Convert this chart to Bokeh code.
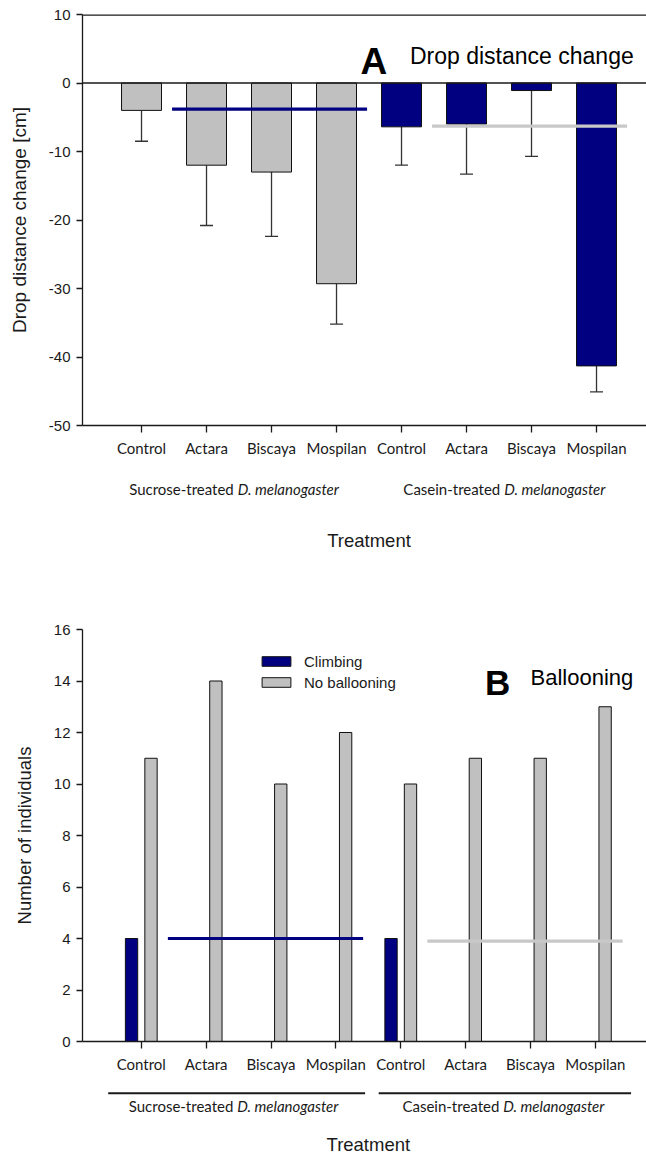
from bokeh.plotting import figure
from bokeh.layouts import column
from bokeh.models import (ColumnDataSource, Whisker, TeeHead, FixedTicker, Label, Span,
                          Arrow, Legend, LegendItem, Range1d)
from bokeh.embed import file_html
from bokeh.resources import INLINE

# ---------------- data ----------------
treatments = ["Control", "Actara", "Biscaya", "Mospilan"]
groups = ["Sucrose-treated", "Casein-treated"]
species = "D. melanogaster"
group_colors = ["#C0C0C0", "#000080"]      # bar colour per group (panel A)
ref_line_colors = ["#000080", "#C8C8C8"]   # reference line colour per group

# Panel A: drop distance change [cm]
drop_mean = [-4.0, -12.0, -13.0, -29.3, -6.4, -6.0, -1.1, -41.3]
drop_se = [4.5, 8.8, 9.4, 5.9, 5.6, 7.3, 9.6, 3.8]
drop_ref_levels = [-3.8, -6.3]
drop_yticks = [-50, -40, -30, -20, -10, 0, 10]

# Panel B: number of individuals
climbing = [4, 0, 0, 0, 4, 0, 0, 0]
no_ballooning = [11, 14, 10, 12, 10, 11, 11, 13]
ball_ref_levels = [4.0, 3.9]
ball_yticks = [0, 2, 4, 6, 8, 10, 12, 14, 16]

# ---------------- helpers ----------------
n_t = len(treatments)
xs = list(range(1, len(groups) * n_t + 1))
tick_labels = {x: t for x, t in zip(xs, treatments * len(groups))}
bar_colors = [group_colors[i // n_t] for i in range(len(xs))]

AX = "#1a1a1a"
SANS = "Liberation Sans"
HUM = "Lato"
W = 646


def style(p, yticks, ylabel, ylab_size, ylab_standoff):
    p.outline_line_color = None
    p.grid.visible = False
    p.yaxis.ticker = FixedTicker(ticks=yticks)
    p.yaxis.major_label_overrides = {v: str(v) for v in yticks}
    p.xaxis.ticker = FixedTicker(ticks=xs)
    p.xaxis.major_label_overrides = tick_labels
    for ax in (p.xaxis, p.yaxis):
        ax.axis_line_color = AX
        ax.axis_line_width = 1.3
        ax.major_tick_line_color = AX
        ax.major_tick_line_width = 1.3
        ax.minor_tick_line_color = None
        ax.major_tick_in = 0
        ax.major_label_text_color = AX
        ax.axis_label_text_color = AX
        ax.axis_label_text_font = SANS
        ax.axis_label_text_font_style = "normal"
    p.yaxis.major_tick_out = 6
    p.xaxis.major_tick_out = 7
    p.yaxis.major_label_text_font = SANS
    p.yaxis.major_label_text_font_size = "15px"
    p.yaxis.major_label_standoff = 6
    p.xaxis.major_label_text_font = HUM
    p.xaxis.major_label_text_font_size = "15px"
    p.xaxis.major_label_standoff = 6
    p.yaxis.axis_label = ylabel
    p.yaxis.axis_label_text_font_size = ylab_size
    p.yaxis.axis_label_standoff = ylab_standoff


def label_strip(x_range, height, left, y_group, y_title, centers):
    s = figure(width=W, height=height, x_range=x_range, y_range=Range1d(height, 0),
               x_axis_type=None, y_axis_type=None, output_backend="svg",
               toolbar_location=None, min_border_left=left, min_border_right=0,
               min_border_top=0, min_border_bottom=0)
    s.outline_line_color = None
    s.grid.visible = False
    for g, c in zip(groups, centers):
        s.add_layout(Label(x=c, y=y_group, text=g, text_align="right", text_baseline="middle",
                           x_offset=-2, text_font=HUM, text_font_size="15px", text_color=AX))
        s.add_layout(Label(x=c, y=y_group, text=species, text_align="left",
                           text_baseline="middle", x_offset=2, text_font=HUM,
                           text_font_size="15px", text_font_style="italic", text_color=AX))
    s.add_layout(Label(x=(xs[0] + xs[-1]) / 2, y=y_title, text="Treatment", text_align="center",
                       text_baseline="middle", text_font=SANS, text_font_size="18.5px",
                       text_color=AX))
    return s


# ---------------- Panel A ----------------
srcA = ColumnDataSource(dict(
    x=xs, top=drop_mean,
    lower=[m - s for m, s in zip(drop_mean, drop_se)],
    color=bar_colors))

xrA = Range1d(0.092, 8.769)
pA = figure(width=W, height=465, x_range=xrA, y_range=Range1d(-50, 10),
            output_backend="svg", toolbar_location=None,
            min_border_top=14, min_border_bottom=40, min_border_left=82, min_border_right=0)
style(pA, drop_yticks, "Drop distance change [cm]", "19px", 16)

pA.add_layout(Span(location=0, dimension="width", line_color=AX, line_width=1.3))
pA.add_layout(Span(location=10, dimension="width", line_color=AX, line_width=2.6))

pA.vbar(x="x", top="top", bottom=0, width=0.615, fill_color="color",
        line_color="#111111", line_width=1, source=srcA)
pA.add_layout(Whisker(base="x", upper="top", lower="lower", source=srcA,
                      upper_head=None,
                      lower_head=TeeHead(size=13, line_color="#333333", line_width=1.3),
                      line_color="#333333", line_width=1.3))

for g, lvl in enumerate(drop_ref_levels):
    x0 = xs[g * n_t + 1] - 0.53
    x1 = xs[g * n_t + n_t - 1] + 0.47
    pA.line(x=[x0, x1], y=[lvl, lvl], line_color=ref_line_colors[g], line_width=3.2)

pA.add_layout(Label(x=4.37, y=3.2, text="A", text_font=SANS, text_font_style="bold",
                    text_font_size="37px", text_color="black", text_baseline="alphabetic"))
pA.add_layout(Label(x=5.13, y=3.9, text="Drop distance change", text_font=SANS,
                    text_font_size="23px", text_color="black", text_baseline="alphabetic"))

sA = label_strip(xrA, 110, 82, 23, 75, [2.45, 6.55])

# ---------------- Panel B ----------------
srcB = ColumnDataSource(dict(
    xc=[x - 0.15 for x in xs], xn=[x + 0.15 for x in xs],
    climb=climbing, noball=no_ballooning))

xrB = Range1d(0.094, 8.788)
pB = figure(width=W, height=506, x_range=xrB, y_range=Range1d(0, 16),
            output_backend="svg", toolbar_location=None,
            min_border_top=54, min_border_bottom=40, min_border_left=80, min_border_right=0)
style(pB, ball_yticks, "Number of individuals", "18.5px", 16)

r_climb = pB.vbar(x="xc", top="climb", bottom=0, width=0.19, fill_color="#000080",
                  line_color="#111111", line_width=1, source=srcB)
r_nob = pB.vbar(x="xn", top="noball", bottom=0, width=0.19, fill_color="#C0C0C0",
                line_color="#111111", line_width=1, source=srcB)

for g, lvl in enumerate(ball_ref_levels):
    x0 = xs[g * n_t + 1] - 0.59
    x1 = xs[g * n_t + n_t - 1] + 0.42
    pB.line(x=[x0, x1], y=[lvl, lvl], line_color=ref_line_colors[g], line_width=3.2)

legend = Legend(items=[LegendItem(label="Climbing", renderers=[r_climb]),
                       LegendItem(label="No ballooning", renderers=[r_nob])],
                location=(176, 349), padding=0, margin=0, spacing=1,
                glyph_width=36, glyph_height=12, label_height=20, label_standoff=10,
                label_text_font=SANS, label_text_font_size="15px", label_text_color=AX,
                border_line_color=None, background_fill_alpha=0)
pB.add_layout(legend)

pB.add_layout(Label(x=6.3, y=13.93, text="B", text_font=SANS, text_font_style="bold",
                    text_font_size="35px", text_color="black", text_baseline="alphabetic"))
pB.add_layout(Label(x=7.0, y=14.13, text="Ballooning", text_font=SANS,
                    text_font_size="22px", text_color="black", text_baseline="alphabetic"))

sB = label_strip(xrB, 82, 80, 24, 63, [2.45, 6.55])
bracket_offsets = [(-0.51, 0.45), (-0.34, 0.55)]
for g, (o0, o1) in enumerate(bracket_offsets):
    sB.add_layout(Arrow(start=None, end=None,
                        x_start=xs[g * n_t] + o0, y_start=11.7,
                        x_end=xs[g * n_t + n_t - 1] + o1, y_end=11.7,
                        line_color=AX, line_width=2))

layout = column(pA, sA, pB, sB, spacing=0)
open("out.html", "w").write(file_html(layout, INLINE))
